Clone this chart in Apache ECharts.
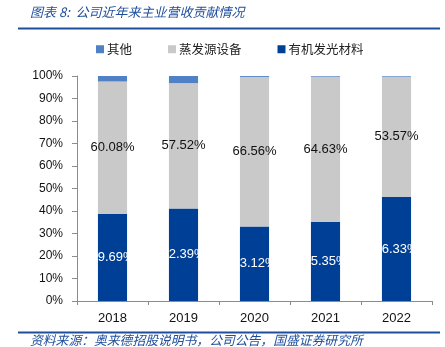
<!DOCTYPE html>
<html>
<head>
<meta charset="utf-8">
<script src="https://cdn.jsdelivr.net/npm/echarts@6/dist/echarts.min.js"></script>
<style>
  html, body { margin: 0; padding: 0; background: #fff; }
  #chart { width: 445px; height: 347px; }
</style>
</head>
<body>
<div id="chart"></div>
<script>
// Revenue contribution by business line, share of main business (%)
const years = ['2018', '2019', '2020', '2021', '2022'];
const oledMaterials = [39.69, 42.39, 33.12, 35.35, 46.33];   // 有机发光材料
const evaporationEquip = [60.08, 57.52, 66.56, 64.63, 53.57]; // 蒸发源设备
const others = [2.5, 3.3, 0.4, 0.3, 0.3];                     // 其他
const yTicks = [0, 10, 20, 30, 40, 50, 60, 70, 80, 90, 100];

const NAME_OLED = '有机发光材料';
const NAME_EVAP = '蒸发源设备';
const NAME_OTHER = '其他';

// Percent-stacked: each column is scaled to its own total
const totals = years.map((_, i) => oledMaterials[i] + evaporationEquip[i] + others[i]);
const share = arr => arr.map((v, i) => ({ value: v / totals[i] * 100, raw: v }));

const cjk = '"Noto Sans CJK SC", sans-serif';
const latin = '"Liberation Sans", Arial, sans-serif';
const blue = '#1f4e9c';

const chart = echarts.init(document.getElementById('chart'), null, { renderer: 'canvas' });

const valueLabel = color => ({
  show: true,
  position: 'inside',
  color: color,
  fontFamily: latin,
  fontSize: 13,
  textBorderWidth: 0,
  formatter: p => p.data.raw.toFixed(2) + '%'
});

chart.setOption({
  animation: false,
  backgroundColor: '#fff',
  grid: { left: 77, right: 13, top: 76, bottom: 46, containLabel: false },
  legend: {
    data: [NAME_OTHER, NAME_EVAP, NAME_OLED],
    left: 96,
    top: 43,
    padding: 0,
    itemWidth: 8,
    itemHeight: 8,
    itemGap: 36,
    icon: 'rect',
    textStyle: { fontFamily: cjk, fontSize: 12.5, color: '#222', padding: [0, 0, 0, -2] }
  },
  graphic: [
    {
      type: 'text', left: 30, top: 6,
      style: { text: '图表 8:  公司近年来主业营收贡献情况', fontFamily: cjk, fontStyle: 'italic',
               fontSize: 13, fill: blue }
    },
    {
      type: 'rect', shape: { x: 18, y: 27.5, width: 422, height: 2 },
      style: { fill: blue }
    },
    {
      type: 'rect', shape: { x: 18, y: 331.5, width: 422, height: 2 },
      style: { fill: blue }
    },
    {
      type: 'text', left: 30, top: 334,
      style: { text: '资料来源：奥来德招股说明书，公司公告，国盛证券研究所', fontFamily: cjk,
               fontStyle: 'italic', fontSize: 12.8, fill: blue }
    }
  ],
  xAxis: {
    type: 'category',
    data: years,
    boundaryGap: true,
    axisLine: { lineStyle: { color: '#8c8c8c', width: 1 } },
    axisTick: { show: true, alignWithLabel: false, length: 4, lineStyle: { color: '#8c8c8c' } },
    axisLabel: { fontFamily: latin, fontSize: 13, color: '#111', margin: 11 }
  },
  yAxis: {
    type: 'value',
    min: yTicks[0],
    max: yTicks[yTicks.length - 1],
    interval: yTicks[1] - yTicks[0],
    splitLine: { show: false },
    axisLine: { show: true, lineStyle: { color: '#8c8c8c', width: 1 } },
    axisTick: { show: true, length: 5, lineStyle: { color: '#8c8c8c' } },
    axisLabel: { fontFamily: latin, fontSize: 12, color: '#111', margin: 14,
                 formatter: v => v + '%' }
  },
  series: [
    {
      name: NAME_OLED, type: 'bar', stack: 'share', barWidth: '41%',
      itemStyle: { color: '#003f96' },
      label: valueLabel('#ffffff'),
      data: share(oledMaterials)
    },
    {
      name: NAME_EVAP, type: 'bar', stack: 'share', barWidth: '41%',
      itemStyle: { color: '#c9c9c9' },
      label: valueLabel('#111111'),
      data: share(evaporationEquip)
    },
    {
      name: NAME_OTHER, type: 'bar', stack: 'share', barWidth: '41%',
      itemStyle: { color: '#4f81c4' },
      data: share(others)
    }
  ]
});
</script>
</body>
</html>
